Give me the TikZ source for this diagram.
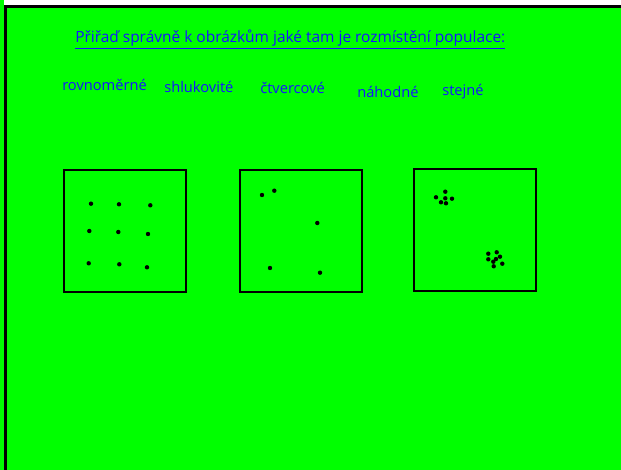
\documentclass[tikz,border=0pt]{standalone}
\usepackage{fontspec}
\setmainfont{Open Sans}
\definecolor{bggreen}{RGB}{0,255,0}
\definecolor{txtblue}{RGB}{20,20,255}
\begin{document}
\begin{tikzpicture}[x=0.75pt,y=-0.75pt,
  word/.style={text=txtblue,font=\fontsize{11}{13}\selectfont,inner sep=0pt,anchor=base west},
  frame/.style={draw=black,line width=1.6pt,minimum width=91.5pt,minimum height=91.5pt,inner sep=0pt},
  dot/.style={fill=black}]
\useasboundingbox (0,0) rectangle (621,470);
\fill[white] (0,0) rectangle (621,470);
\fill[bggreen] (0,6) rectangle (621,470);
\fill[bggreen] (0,0) rectangle (4,470);
\draw[black,line width=2.2pt] (5.5,470) -- (5.5,6.5) -- (621,6.5);
% title
\node[word,font=\fontsize{11.6}{13}\selectfont] (title) at (75,43) {\underline{Přiřaď správně k obrázkům jaké tam je rozmístění populace:}};
% words
\node[word] (w1) at (62,91) {rovnoměrné};
\node[word] (w2) at (164,93) {shlukovité};
\node[word] (w3) at (260,94) {čtvercové};
\node[word] (w4) at (357,98) {náhodné};
\node[word] (w5) at (442,96) {stejné};
% frames
\node[frame] (b1) at (125,231) {};
\node[frame] (b2) at (301,231) {};
\node[frame] (b3) at (475,230) {};
% dots box 1
\foreach \p in {(91,203.7),(119,204.3),(150.3,205.3),(89.3,231),(118.3,232),(148,234),(88.7,263.3),(119.3,264.3),(147,267.3)}
  \fill[dot] \p circle (2.2);
% dots box 2
\foreach \p in {(262,195),(274.3,190.7),(317.3,223),(270,268),(320,272.7)}
  \fill[dot] \p circle (2.2);
% dots box 3
\foreach \p in {(445.3,191.7),(436,197.3),(445.3,198.3),(452,198.7),(441,202.3),(446,203.3),
  (488.3,253.7),(496.7,252.3),(500,256.7),(488.3,259.3),(496,259),(493.3,261.7),(502.3,263.7),(493.7,266.3)}
  \fill[dot] \p circle (2.2);
\end{tikzpicture}
\end{document}
